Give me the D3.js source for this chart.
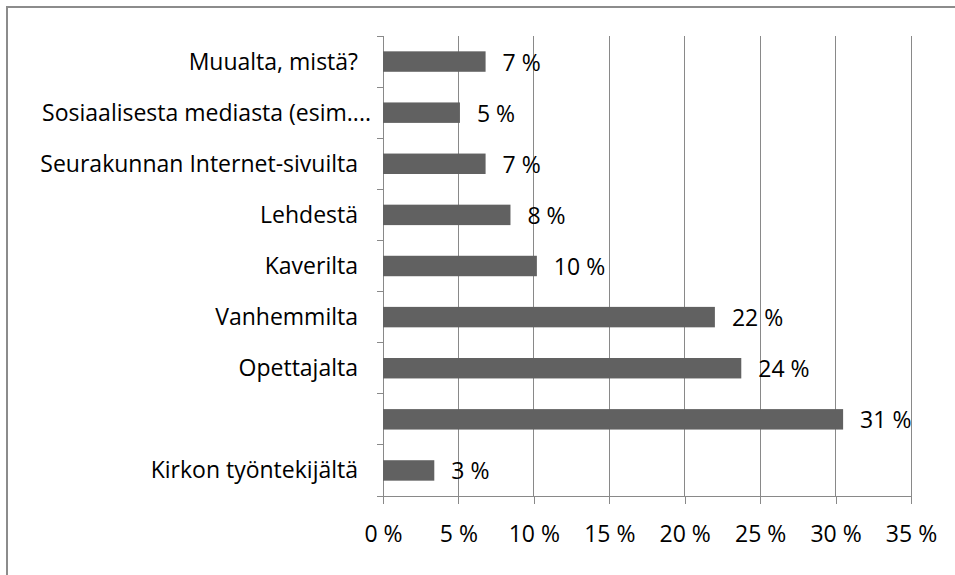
<!DOCTYPE html>
<meta charset="utf-8">
<style>
    html, body { margin: 0; background: #fff; overflow: hidden; }
    svg { display: block; }
    text { font-family: "Open Sans", sans-serif; fill: #000; }
    .grid line, .axis line, .axis path { stroke: #898989; stroke-width: 1px; shape-rendering: crispEdges; }
</style>
<body>
<script src="https://d3js.org/d3.v7.min.js"></script>
<script>
    // categories top to bottom (one label is blank in the source chart)
    var categories = ["Muualta, mistä?", "Sosiaalisesta mediasta (esim....", "Seurakunnan Internet-sivuilta",
        "Lehdestä", "Kaverilta", "Vanhemmilta", "Opettajalta", "", "Kirkon työntekijältä"];
    var values = [6.8, 5.1, 6.8, 8.45, 10.2, 22.0, 23.75, 30.5, 3.4];
    var xTicks = [0, 5, 10, 15, 20, 25, 30, 35];

    var W = 955, H = 575;
    var fontSize = "23px";
    var margin = {top: 36, right: 44, bottom: 79, left: 383};
    var width = 911 - margin.left,
        height = 496 - margin.top;

    var svg = d3.select("body").append("svg")
        .attr("width", W)
        .attr("height", H);

    // outer chart border (only left and top edges show)
    svg.append("rect")
        .attr("x", 7).attr("y", 7)
        .attr("width", 980).attr("height", 600)
        .attr("fill", "none")
        .attr("stroke", "#8c8c8c")
        .attr("stroke-width", 2);

    var g = svg.append("g")
        .attr("transform", "translate(" + margin.left + "," + margin.top + ")");

    var x = d3.scaleLinear().domain([0, 35]).range([0, width]);
    var y = d3.scaleBand()
        .domain(d3.range(categories.length))
        .range([0, height])
        .paddingInner(0.6)
        .paddingOuter(0.3);

    // vertical gridlines
    g.append("g").attr("class", "grid")
        .selectAll("line")
        .data(xTicks.slice(1))
        .enter().append("line")
        .attr("x1", function(d) { return x(d); })
        .attr("x2", function(d) { return x(d); })
        .attr("y1", 0)
        .attr("y2", height);

    // x axis
    var xAxis = g.append("g").attr("class", "axis")
        .attr("transform", "translate(0," + height + ")")
        .call(d3.axisBottom(x).tickValues(xTicks).tickSize(8).tickSizeOuter(0)
            .tickFormat(function(d) { return d + " %"; }));
    xAxis.selectAll("text")
        .attr("y", 30)
        .style("font-size", fontSize);

    // y axis line + ticks at band boundaries
    var yAx = g.append("g").attr("class", "axis");
    yAx.append("line").attr("x1", 0).attr("x2", 0).attr("y1", 0).attr("y2", height);
    var step = height / categories.length;
    yAx.selectAll(".tk")
        .data(d3.range(categories.length + 1))
        .enter().append("line")
        .attr("class", "tk")
        .attr("x1", -6).attr("x2", 0)
        .attr("y1", function(d) { return d * step; })
        .attr("y2", function(d) { return d * step; });

    // category labels
    g.selectAll(".cat")
        .data(categories)
        .enter().append("text")
        .attr("class", "cat")
        .attr("x", function(d, i) { return i === 1 ? -12 : -25; })
        .attr("y", function(d, i) { return y(i) + y.bandwidth() / 2; })
        .attr("dy", "0.35em")
        .attr("text-anchor", "end")
        .style("font-size", fontSize)
        .text(function(d) { return d; });

    // bars
    g.selectAll(".bar")
        .data(values)
        .enter().append("rect")
        .attr("class", "bar")
        .attr("x", 0)
        .attr("y", function(d, i) { return y(i); })
        .attr("width", function(d) { return x(d); })
        .attr("height", y.bandwidth())
        .attr("fill", "#616161");

    // value labels
    g.selectAll(".val")
        .data(values)
        .enter().append("text")
        .attr("class", "val")
        .attr("x", function(d) { return x(d) + 17; })
        .attr("y", function(d, i) { return y(i) + y.bandwidth() / 2 + 1; })
        .attr("dy", "0.35em")
        .style("font-size", fontSize)
        .text(function(d) { return Math.round(d) + " %"; });
</script>
</body>
